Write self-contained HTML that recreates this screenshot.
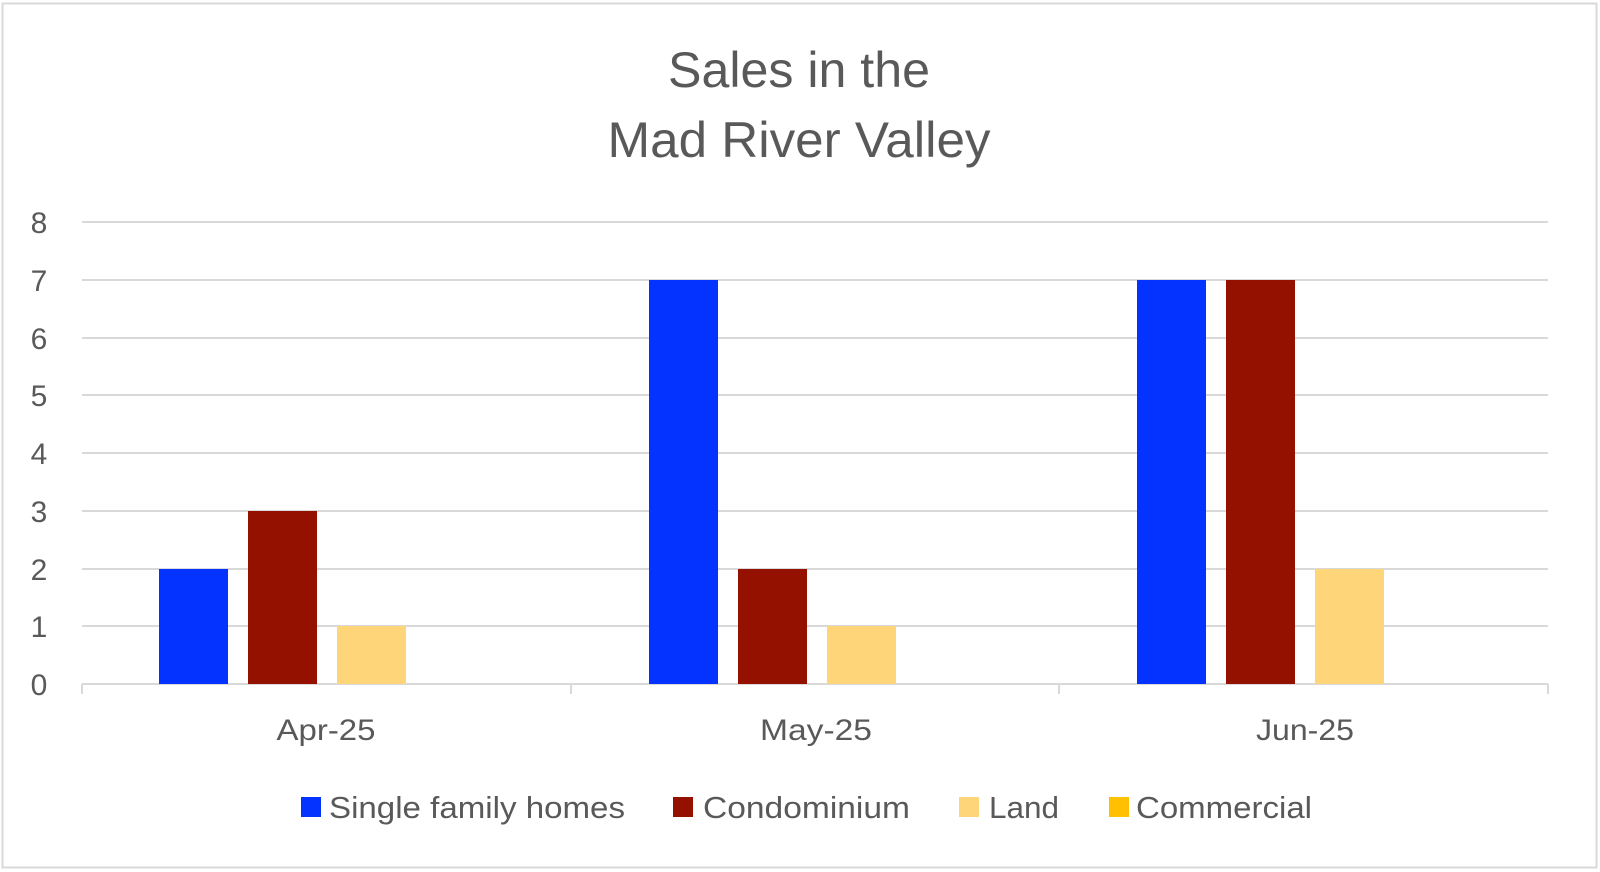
<!DOCTYPE html>
<html><head><meta charset="utf-8"><style>
html,body{margin:0;padding:0;background:#fff;}
svg{display:block;font-family:"Liberation Sans",sans-serif;}
</style></head><body>
<svg width="1600" height="872" viewBox="0 0 1600 872" xmlns="http://www.w3.org/2000/svg">
<rect x="2.5" y="3.5" width="1594" height="864" fill="#fff" stroke="#d9d9d9" stroke-width="2"/>
<g fill="#595959" text-anchor="middle">
<text x="799" y="87" font-size="50" textLength="262" lengthAdjust="spacingAndGlyphs">Sales in the</text>
<text x="799" y="157" font-size="50" textLength="383" lengthAdjust="spacingAndGlyphs">Mad River Valley</text>
</g>
<g stroke="#d9d9d9" stroke-width="2">
<line x1="82" x2="1548" y1="222" y2="222"/>
<line x1="82" x2="1548" y1="280" y2="280"/>
<line x1="82" x2="1548" y1="338" y2="338"/>
<line x1="82" x2="1548" y1="395" y2="395"/>
<line x1="82" x2="1548" y1="453" y2="453"/>
<line x1="82" x2="1548" y1="511" y2="511"/>
<line x1="82" x2="1548" y1="569" y2="569"/>
<line x1="82" x2="1548" y1="626" y2="626"/>
<line x1="82" x2="1548" y1="684" y2="684"/>
<line x1="82" x2="82" y1="684" y2="694"/>
<line x1="571" x2="571" y1="684" y2="694"/>
<line x1="1059" x2="1059" y1="684" y2="694"/>
<line x1="1548" x2="1548" y1="684" y2="694"/>
</g>
<g fill="#595959" font-size="30" text-anchor="middle">
<text x="39" y="233">8</text><text x="39" y="291">7</text><text x="39" y="349">6</text>
<text x="39" y="406">5</text><text x="39" y="464">4</text><text x="39" y="522">3</text>
<text x="39" y="580">2</text><text x="39" y="637">1</text><text x="39" y="695">0</text>
<text x="326" y="740" textLength="99" lengthAdjust="spacingAndGlyphs">Apr-25</text>
<text x="816" y="740" textLength="112" lengthAdjust="spacingAndGlyphs">May-25</text>
<text x="1305" y="740" textLength="98" lengthAdjust="spacingAndGlyphs">Jun-25</text>
</g>
<rect x="159" y="569" width="69" height="115" fill="#0433ff"/>
<rect x="248" y="511" width="69" height="173" fill="#941100"/>
<rect x="337" y="626" width="69" height="58" fill="#ffd579"/>
<rect x="649" y="280" width="69" height="404" fill="#0433ff"/>
<rect x="738" y="569" width="69" height="115" fill="#941100"/>
<rect x="827" y="626" width="69" height="58" fill="#ffd579"/>
<rect x="1137" y="280" width="69" height="404" fill="#0433ff"/>
<rect x="1226" y="280" width="69" height="404" fill="#941100"/>
<rect x="1315" y="569" width="69" height="115" fill="#ffd579"/>
<rect x="301" y="797" width="20" height="20" fill="#0433ff"/>
<rect x="673" y="797" width="20" height="20" fill="#941100"/>
<rect x="959" y="797" width="20" height="20" fill="#ffd579"/>
<rect x="1109" y="797" width="20" height="20" fill="#ffc000"/>
<g fill="#595959" font-size="31">
<text x="329" y="818" textLength="296" lengthAdjust="spacingAndGlyphs">Single family homes</text>
<text x="703" y="818" textLength="207" lengthAdjust="spacingAndGlyphs">Condominium</text>
<text x="989" y="818" textLength="70" lengthAdjust="spacingAndGlyphs">Land</text>
<text x="1136" y="818" textLength="176" lengthAdjust="spacingAndGlyphs">Commercial</text>
</g>
</svg>
</body></html>
